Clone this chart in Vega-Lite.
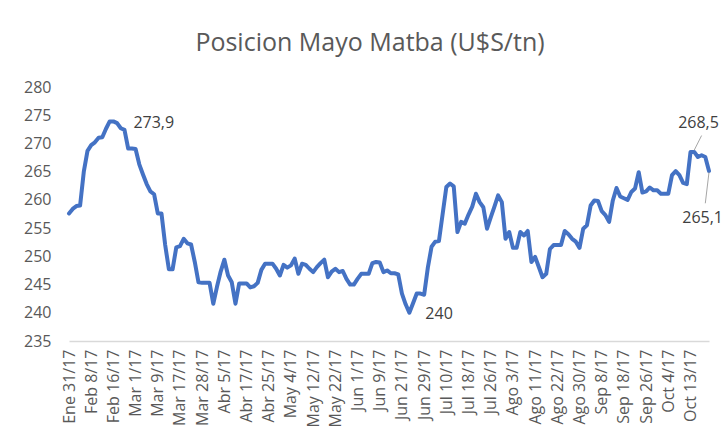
{
  "$schema": "https://vega.github.io/schema/vega-lite/v6.json",
  "width": 640,
  "height": 254,
  "autosize": {"type": "none"},
  "padding": {"left": 69, "top": 87, "right": 14, "bottom": 99},
  "background": "white",
  "config": {"view": {"stroke": null}, "font": "Open Sans"},
  "title": {
    "text": "Posicion Mayo Matba (U$S/tn)",
    "font": "Open Sans",
    "fontSize": 25,
    "fontWeight": "normal",
    "color": "#595959",
    "frame": "group",
    "anchor": "middle",
    "dx": -19,
    "offset": 3,
    "baseline": "alphabetic"
  },
  "datasets": {
    "serie": [
      {"d": "Ene 31/17", "v": 257.6}, {"d": "Feb 1/17", "v": 258.4}, {"d": "Feb 2/17", "v": 258.9}, {"d": "Feb 3/17", "v": 259.0},
      {"d": "Feb 6/17", "v": 265.0}, {"d": "Feb 7/17", "v": 268.7}, {"d": "Feb 8/17", "v": 269.7}, {"d": "Feb 9/17", "v": 270.2},
      {"d": "Feb 10/17", "v": 271.0}, {"d": "Feb 13/17", "v": 271.1}, {"d": "Feb 14/17", "v": 272.6}, {"d": "Feb 15/17", "v": 273.9},
      {"d": "Feb 16/17", "v": 273.9}, {"d": "Feb 17/17", "v": 273.6}, {"d": "Feb 20/17", "v": 272.7}, {"d": "Feb 21/17", "v": 272.4},
      {"d": "Feb 22/17", "v": 269.1}, {"d": "Feb 23/17", "v": 269.1}, {"d": "Mar 1/17", "v": 269.0}, {"d": "Mar 2/17", "v": 266.3},
      {"d": "Mar 3/17", "v": 264.5}, {"d": "Mar 6/17", "v": 262.8}, {"d": "Mar 7/17", "v": 261.5}, {"d": "Mar 8/17", "v": 261.0},
      {"d": "Mar 9/17", "v": 257.6}, {"d": "Mar 10/17", "v": 257.6}, {"d": "Mar 13/17", "v": 252.0}, {"d": "Mar 14/17", "v": 247.7},
      {"d": "Mar 15/17", "v": 247.7}, {"d": "Mar 16/17", "v": 251.6}, {"d": "Mar 17/17", "v": 251.8}, {"d": "Mar 20/17", "v": 253.1},
      {"d": "Mar 21/17", "v": 252.3}, {"d": "Mar 22/17", "v": 252.1}, {"d": "Mar 23/17", "v": 249.0}, {"d": "Mar 27/17", "v": 245.4},
      {"d": "Mar 28/17", "v": 245.3}, {"d": "Mar 29/17", "v": 245.3}, {"d": "Mar 30/17", "v": 245.3}, {"d": "Mar 31/17", "v": 241.6},
      {"d": "Abr 3/17", "v": 244.6}, {"d": "Abr 4/17", "v": 247.3}, {"d": "Abr 5/17", "v": 249.4}, {"d": "Abr 6/17", "v": 246.6},
      {"d": "Abr 7/17", "v": 245.4}, {"d": "Abr 10/17", "v": 241.6}, {"d": "Abr 11/17", "v": 245.2}, {"d": "Abr 12/17", "v": 245.2},
      {"d": "Abr 17/17", "v": 245.2}, {"d": "Abr 18/17", "v": 244.5}, {"d": "Abr 19/17", "v": 244.7}, {"d": "Abr 20/17", "v": 245.3},
      {"d": "Abr 21/17", "v": 247.6}, {"d": "Abr 24/17", "v": 248.7}, {"d": "Abr 25/17", "v": 248.7}, {"d": "Abr 26/17", "v": 248.7},
      {"d": "Abr 27/17", "v": 247.8}, {"d": "Abr 28/17", "v": 246.6}, {"d": "May 2/17", "v": 248.5}, {"d": "May 3/17", "v": 248.0},
      {"d": "May 4/17", "v": 248.4}, {"d": "May 5/17", "v": 249.6}, {"d": "May 8/17", "v": 246.9}, {"d": "May 9/17", "v": 248.7},
      {"d": "May 10/17", "v": 248.5}, {"d": "May 11/17", "v": 247.8}, {"d": "May 12/17", "v": 247.2}, {"d": "May 15/17", "v": 248.1},
      {"d": "May 16/17", "v": 248.8}, {"d": "May 17/17", "v": 249.4}, {"d": "May 18/17", "v": 246.3}, {"d": "May 19/17", "v": 247.3},
      {"d": "May 22/17", "v": 247.8}, {"d": "May 23/17", "v": 247.2}, {"d": "May 24/17", "v": 247.4}, {"d": "May 29/17", "v": 246.0},
      {"d": "May 30/17", "v": 245.0}, {"d": "May 31/17", "v": 245.0}, {"d": "Jun 1/17", "v": 246.0}, {"d": "Jun 2/17", "v": 246.9},
      {"d": "Jun 5/17", "v": 246.9}, {"d": "Jun 6/17", "v": 246.9}, {"d": "Jun 7/17", "v": 248.8}, {"d": "Jun 8/17", "v": 249.0},
      {"d": "Jun 9/17", "v": 248.9}, {"d": "Jun 12/17", "v": 247.2}, {"d": "Jun 13/17", "v": 247.5}, {"d": "Jun 14/17", "v": 247.0},
      {"d": "Jun 15/17", "v": 247.0}, {"d": "Jun 16/17", "v": 246.8}, {"d": "Jun 21/17", "v": 243.4}, {"d": "Jun 22/17", "v": 241.5},
      {"d": "Jun 23/17", "v": 240.0}, {"d": "Jun 26/17", "v": 241.7}, {"d": "Jun 27/17", "v": 243.4}, {"d": "Jun 28/17", "v": 243.4},
      {"d": "Jun 29/17", "v": 243.2}, {"d": "Jun 30/17", "v": 248.0}, {"d": "Jul 3/17", "v": 251.7}, {"d": "Jul 4/17", "v": 252.6},
      {"d": "Jul 5/17", "v": 252.7}, {"d": "Jul 6/17", "v": 257.5}, {"d": "Jul 10/17", "v": 262.3}, {"d": "Jul 11/17", "v": 262.9},
      {"d": "Jul 12/17", "v": 262.4}, {"d": "Jul 13/17", "v": 254.3}, {"d": "Jul 14/17", "v": 256.1}, {"d": "Jul 17/17", "v": 255.8},
      {"d": "Jul 18/17", "v": 257.4}, {"d": "Jul 19/17", "v": 258.8}, {"d": "Jul 20/17", "v": 261.1}, {"d": "Jul 21/17", "v": 259.6},
      {"d": "Jul 24/17", "v": 258.7}, {"d": "Jul 25/17", "v": 254.9}, {"d": "Jul 26/17", "v": 256.9}, {"d": "Jul 27/17", "v": 258.8},
      {"d": "Jul 28/17", "v": 260.8}, {"d": "Jul 31/17", "v": 259.6}, {"d": "Ago 1/17", "v": 253.1}, {"d": "Ago 2/17", "v": 254.3},
      {"d": "Ago 3/17", "v": 251.5}, {"d": "Ago 4/17", "v": 251.5}, {"d": "Ago 7/17", "v": 254.3}, {"d": "Ago 8/17", "v": 253.7},
      {"d": "Ago 9/17", "v": 254.5}, {"d": "Ago 10/17", "v": 249.0}, {"d": "Ago 11/17", "v": 249.9}, {"d": "Ago 14/17", "v": 248.1},
      {"d": "Ago 15/17", "v": 246.3}, {"d": "Ago 16/17", "v": 246.9}, {"d": "Ago 17/17", "v": 251.3}, {"d": "Ago 18/17", "v": 252.0},
      {"d": "Ago 22/17", "v": 252.0}, {"d": "Ago 23/17", "v": 252.0}, {"d": "Ago 24/17", "v": 254.5}, {"d": "Ago 25/17", "v": 253.9},
      {"d": "Ago 28/17", "v": 253.1}, {"d": "Ago 29/17", "v": 252.6}, {"d": "Ago 30/17", "v": 251.5}, {"d": "Ago 31/17", "v": 254.9},
      {"d": "Sep 1/17", "v": 255.5}, {"d": "Sep 4/17", "v": 259.0}, {"d": "Sep 5/17", "v": 259.9}, {"d": "Sep 6/17", "v": 259.8},
      {"d": "Sep 8/17", "v": 258.0}, {"d": "Sep 11/17", "v": 257.3}, {"d": "Sep 12/17", "v": 256.1}, {"d": "Sep 13/17", "v": 259.9},
      {"d": "Sep 14/17", "v": 262.1}, {"d": "Sep 15/17", "v": 260.6}, {"d": "Sep 18/17", "v": 260.3}, {"d": "Sep 19/17", "v": 260.0},
      {"d": "Sep 20/17", "v": 261.4}, {"d": "Sep 21/17", "v": 262.0}, {"d": "Sep 22/17", "v": 264.9}, {"d": "Sep 25/17", "v": 261.3},
      {"d": "Sep 26/17", "v": 261.5}, {"d": "Sep 27/17", "v": 262.2}, {"d": "Sep 28/17", "v": 261.7}, {"d": "Sep 29/17", "v": 261.7},
      {"d": "Oct 2/17", "v": 261.1}, {"d": "Oct 3/17", "v": 261.1}, {"d": "Oct 4/17", "v": 261.1}, {"d": "Oct 5/17", "v": 264.4},
      {"d": "Oct 6/17", "v": 265.1}, {"d": "Oct 9/17", "v": 264.4}, {"d": "Oct 10/17", "v": 263.0}, {"d": "Oct 11/17", "v": 262.8},
      {"d": "Oct 13/17", "v": 268.5}, {"d": "Oct 17/17", "v": 268.5}, {"d": "Oct 18/17", "v": 267.6}, {"d": "Oct 19/17", "v": 267.9},
      {"d": "Oct 20/17", "v": 267.6}, {"d": "Oct 23/17", "v": 265.1}
    ],
    "notas": [
      {"d": "Feb 16/17", "v": 273.9, "t": "273,9"},
      {"d": "Jun 23/17", "v": 240.0, "t": "240"},
      {"d": "Oct 13/17", "v": 268.5, "t": "268,5"},
      {"d": "Oct 23/17", "v": 265.1, "t": "265,1"}
    ],
    "guias": [
      {"d": "Oct 17/17", "v": 268.8, "d2": "Oct 19/17", "v2": 271.4},
      {"d": "Oct 23/17", "v": 264.9, "d2": "Oct 20/17", "v2": 259.4}
    ]
  },
  "encoding": {
    "x": {
      "field": "d",
      "type": "ordinal",
      "sort": null,
      "scale": {"type": "point", "padding": 0},
      "axis": {
        "values": ["Ene 31/17", "Feb 8/17", "Feb 16/17", "Mar 1/17", "Mar 9/17", "Mar 17/17", "Mar 28/17", "Abr 5/17", "Abr 17/17", "Abr 25/17", "May 4/17", "May 12/17", "May 22/17", "Jun 1/17", "Jun 9/17", "Jun 21/17", "Jun 29/17", "Jul 10/17", "Jul 18/17", "Jul 26/17", "Ago 3/17", "Ago 11/17", "Ago 22/17", "Ago 30/17", "Sep 8/17", "Sep 18/17", "Sep 26/17", "Oct 4/17", "Oct 13/17"],
        "title": null,
        "labelAngle": -90,
        "labelFontSize": 16,
        "labelFont": "Open Sans",
        "labelColor": "#595959",
        "labelPadding": 8,
        "labelOverlap": false,
        "labelBound": false,
        "ticks": false,
        "grid": false,
        "domainColor": "#D9D9D9",
        "domainWidth": 1.5
      }
    },
    "y": {
      "field": "v",
      "type": "quantitative",
      "scale": {"domain": [235, 280], "nice": false, "zero": false},
      "axis": {
        "values": [235, 240, 245, 250, 255, 260, 265, 270, 275, 280],
        "title": null,
        "labelFontSize": 16,
        "labelFont": "Open Sans",
        "labelColor": "#595959",
        "labelPadding": 18,
        "ticks": false,
        "domain": false,
        "grid": false
      }
    }
  },
  "layer": [
    {
      "data": {"name": "serie"},
      "mark": {"type": "line", "color": "#4472C4", "strokeWidth": 4, "strokeJoin": "round", "strokeCap": "round"}
    },
    {
      "data": {"name": "guias"},
      "mark": {"type": "rule", "color": "#A6A6A6", "strokeWidth": 1},
      "encoding": {"x2": {"field": "d2"}, "y2": {"field": "v2"}}
    },
    {
      "data": {"name": "notas"},
      "transform": [{"filter": "datum.t == '273,9'"}],
      "mark": {"type": "text", "align": "left", "baseline": "middle", "dx": 20, "dy": 1.5, "fontSize": 16, "font": "Open Sans", "color": "#404040"},
      "encoding": {"text": {"field": "t"}}
    },
    {
      "data": {"name": "notas"},
      "transform": [{"filter": "datum.t == '240'"}],
      "mark": {"type": "text", "align": "left", "baseline": "middle", "dx": 16, "dy": 1, "fontSize": 16, "font": "Open Sans", "color": "#404040"},
      "encoding": {"text": {"field": "t"}}
    },
    {
      "data": {"name": "notas"},
      "transform": [{"filter": "datum.t == '268,5'"}],
      "mark": {"type": "text", "align": "center", "baseline": "middle", "dx": 8, "dy": -29, "fontSize": 16, "font": "Open Sans", "color": "#404040"},
      "encoding": {"text": {"field": "t"}}
    },
    {
      "data": {"name": "notas"},
      "transform": [{"filter": "datum.t == '265,1'"}],
      "mark": {"type": "text", "align": "right", "baseline": "middle", "dx": 14, "dy": 47, "fontSize": 16, "font": "Open Sans", "color": "#404040"},
      "encoding": {"text": {"field": "t"}}
    }
  ]
}
